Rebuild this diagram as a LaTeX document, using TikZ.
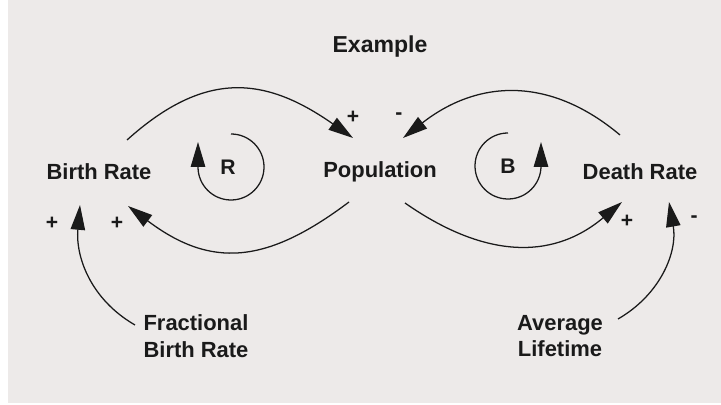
\documentclass[tikz,border=0pt]{standalone}
\usepackage{fontspec}
\setmainfont{Liberation Sans}
\usepackage{tikz}
\usetikzlibrary{arrows.meta,positioning,calc}
\definecolor{PaperGray}{HTML}{EDEAE9}
\definecolor{InkBlack}{HTML}{1A1A1A}
\tikzset{
  % Variable names
  VR/.style={font=\fontsize{15.6}{19}\selectfont\bfseries,text=InkBlack,align=center,inner sep=0pt},
  % Loop letters
  LP/.style={font=\fontsize{15}{18}\selectfont\bfseries,text=InkBlack,inner sep=0pt},
  % Polarity signs
  SG/.style={font=\fontsize{15}{17}\selectfont\bfseries,text=InkBlack,inner sep=0pt},
  % Causal link
  lnk/.style={-{Triangle[length=0.62cm,width=0.36cm]},draw=InkBlack,line width=0.9pt}
}
\begin{document}
\begin{tikzpicture}[x=0.025cm,y=0.025cm]
  \useasboundingbox (0,0) rectangle (721,405);
  \fill[white] (0,0) rectangle (721,405);
  \fill[PaperGray] (8,2) rectangle (721,405);
  \node[VR,font=\fontsize{16.4}{19}\selectfont\bfseries] (title) at (380,358) {Example};
  \node[VR] (birth) at (99,233) {Birth Rate};
  \node[VR] (pop) at (380,233) {Population};
  \node[VR] (death) at (640,233) {Death Rate};
  \node[VR,align=left] (fbr) at (196,69) {Fractional\\Birth Rate};
  \node[VR] (life) at (560,69) {Average\\Lifetime};
  \node[LP] (rloop) at (228,238) {R};
  \node[LP] (bloop) at (508,239) {B};
  % reinforcing loop
  \draw[lnk] ([shift={(3,33)}]rloop.center) arc[start angle=90,end angle=-180,radius=33] -- ++(0,25);
  % balancing loop
  \draw[lnk] ([shift={(0,33)}]bloop.center) arc[start angle=90,end angle=360,radius=33] -- ++(0,24);
  % links
  \draw[lnk] ([shift={(28,32)}]birth.center) to[out=42,in=145,looseness=1.2] ([shift={(-27,34)}]pop.center);
  \draw[lnk] ([shift={(-31,-30)}]pop.center) to[out=-143,in=-37,looseness=1.2] ([shift={(29,-34)}]birth.center);
  \draw[lnk] ([shift={(-61,11)}]fbr.center) to[out=150,in=-95,looseness=1] ([shift={(-19,-33)}]birth.center);
  \draw[lnk] ([shift={(-20,37)}]death.center) to[out=140,in=38,looseness=1.1] ([shift={(23,34)}]pop.center);
  \draw[lnk] ([shift={(25,-31)}]pop.center) to[out=-35,in=-140,looseness=1.1] ([shift={(-18,-30)}]death.center);
  \draw[lnk] ([shift={(58,17)}]life.center) to[out=30,in=-80,looseness=1] ([shift={(29,-30)}]death.center);
  % polarity signs
  \node[SG] (s1) at (353,288) {+};
  \node[SG] (s2) at (117,182) {+};
  \node[SG] (s3) at (52,182) {+};
  \node[SG] (s4) at (399,289) {-};
  \node[SG] (s5) at (627,184) {+};
  \node[SG] (s6) at (694,186) {-};
\end{tikzpicture}
\end{document}
